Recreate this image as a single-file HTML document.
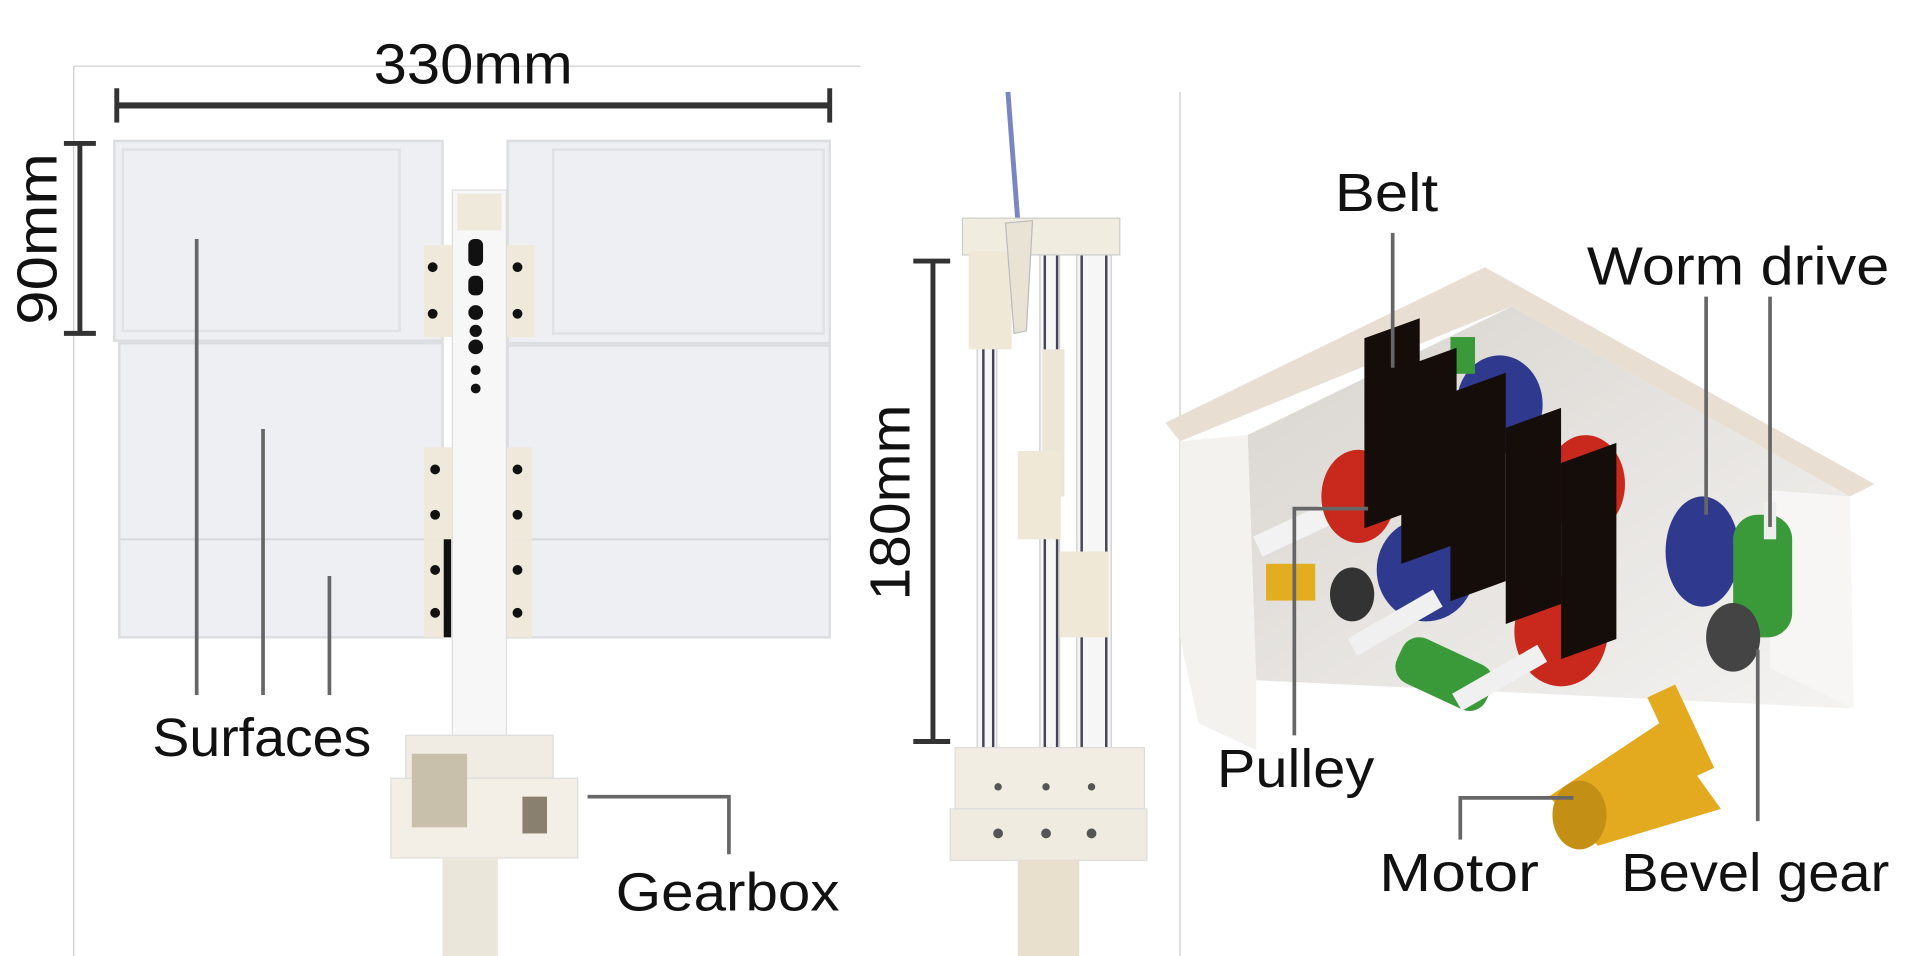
<!DOCTYPE html>
<html><head><meta charset="utf-8"><style>
html,body{margin:0;padding:0;background:#fff;}
svg{display:block;}
text{font-family:"Liberation Sans",sans-serif;fill:#111;}
</style></head><body>
<svg width="1920" height="956" viewBox="0 0 1562 780" preserveAspectRatio="none" xmlns="http://www.w3.org/2000/svg">
<defs>
<linearGradient id="g1" x1="0" y1="0" x2="1" y2="1"><stop offset="0" stop-color="#d8d4cf"/><stop offset="1" stop-color="#f4f3f1"/></linearGradient>
</defs>
<!-- frame lines -->
<line x1="60" y1="54" x2="700" y2="54" stroke="#ccc" stroke-width="1"/>
<line x1="60" y1="54" x2="60" y2="780" stroke="#ccc" stroke-width="1"/>
<line x1="960" y1="75" x2="960" y2="780" stroke="#ccc" stroke-width="1"/>

<!-- 330mm -->
<text x="385" y="68" font-size="46" text-anchor="middle" textLength="162" lengthAdjust="spacingAndGlyphs">330mm</text>
<line x1="95" y1="86" x2="675" y2="86" stroke="#333" stroke-width="5"/>
<line x1="95" y1="72" x2="95" y2="100" stroke="#333" stroke-width="4"/>
<line x1="675" y1="72" x2="675" y2="100" stroke="#333" stroke-width="4"/>
<!-- 90mm -->
<line x1="65" y1="117" x2="65" y2="272" stroke="#333" stroke-width="4"/>
<line x1="52" y1="117" x2="78" y2="117" stroke="#333" stroke-width="4"/>
<line x1="52" y1="272" x2="78" y2="272" stroke="#333" stroke-width="4"/>
<text transform="translate(46,195) rotate(-90)" font-size="46" text-anchor="middle" textLength="140" lengthAdjust="spacingAndGlyphs">90mm</text>

<!-- panels -->
<g fill="#eeeff2" stroke="#dcdde0" stroke-width="2">
<rect x="97" y="440" width="263" height="80"/>
<rect x="413" y="440" width="262" height="80"/>
<rect x="97" y="280" width="263" height="160"/>
<rect x="413" y="282" width="262" height="158"/>
<rect x="93" y="115" width="267" height="163"/>
<rect x="413" y="115" width="262" height="165"/>
</g>
<g fill="none" stroke="#e0e1e4" stroke-width="2">
<rect x="100" y="122" width="225" height="148"/>
<rect x="450" y="122" width="220" height="150"/>
</g>
<!-- pole -->
<rect x="345" y="200" width="90" height="75" fill="#efe9dc"/>
<rect x="345" y="365" width="88" height="75" fill="#efe9dc"/>
<rect x="345" y="440" width="88" height="80" fill="#efe9dc"/>
<rect x="368" y="155" width="44" height="450" fill="#f7f7f7" stroke="#ddd"/>
<rect x="372" y="158" width="36" height="30" fill="#efe9dc"/>
<g fill="#111">
<rect x="381" y="195" width="12" height="22" rx="5"/>
<rect x="381" y="225" width="12" height="16" rx="5"/>
<circle cx="387" cy="255" r="6"/><circle cx="387" cy="270" r="5"/><circle cx="387" cy="283" r="6"/>
<circle cx="387" cy="302" r="4"/><circle cx="387" cy="317" r="4"/>
<circle cx="352" cy="218" r="4"/><circle cx="352" cy="256" r="4"/><circle cx="421" cy="218" r="4"/><circle cx="421" cy="256" r="4"/>
<circle cx="354" cy="383" r="4"/><circle cx="354" cy="420" r="4"/><circle cx="421" cy="383" r="4"/><circle cx="421" cy="420" r="4"/>
<circle cx="354" cy="465" r="4"/><circle cx="354" cy="500" r="4"/><circle cx="421" cy="465" r="4"/><circle cx="421" cy="500" r="4"/>
<rect x="361" y="440" width="6" height="80"/>
</g>
<!-- gearbox -->
<rect x="330" y="600" width="120" height="35" fill="#f0ece3" stroke="#ddd"/>
<rect x="318" y="635" width="152" height="65" fill="#f3efe6" stroke="#ddd"/>
<rect x="335" y="615" width="45" height="60" fill="#c9c0ac"/>
<rect x="425" y="650" width="20" height="30" fill="#8a8070"/>
<rect x="360" y="700" width="45" height="80" fill="#eae6da"/>

<!-- leaders left -->
<g stroke="#666" stroke-width="3" fill="none">
<line x1="160" y1="195" x2="160" y2="567"/>
<line x1="214" y1="350" x2="214" y2="567"/>
<line x1="268" y1="470" x2="268" y2="567"/>
<polyline points="478,650 593,650 593,697"/>
</g>
<text x="213" y="617" font-size="44" text-anchor="middle" textLength="178" lengthAdjust="spacingAndGlyphs">Surfaces</text>
<text x="592" y="743" font-size="44" text-anchor="middle" textLength="182" lengthAdjust="spacingAndGlyphs">Gearbox</text>

<!-- middle device -->
<line x1="820" y1="75" x2="828" y2="180" stroke="#7a86c0" stroke-width="4"/>
<g fill="#f6f6f6" stroke="#ccc"><rect x="795" y="200" width="16" height="410"/><rect x="846" y="200" width="16" height="410"/><rect x="876" y="200" width="28" height="410"/></g>
<g stroke="#445" stroke-width="2">
<line x1="800" y1="200" x2="800" y2="610"/><line x1="808" y1="200" x2="808" y2="610"/>
<line x1="850" y1="200" x2="850" y2="610"/><line x1="860" y1="200" x2="860" y2="610"/>
<line x1="880" y1="200" x2="880" y2="610"/><line x1="900" y1="200" x2="900" y2="610"/>
</g>
<rect x="783" y="178" width="128" height="30" fill="#f0ece0" stroke="#ccc"/>
<rect x="788" y="205" width="35" height="80" fill="#efe8d6"/>
<polygon points="818,182 840,180 835,270 825,272" fill="#e9e3d6" stroke="#bbb"/>
<rect x="848" y="285" width="18" height="120" fill="#ece6d8"/>
<rect x="828" y="368" width="35" height="72" fill="#efe8d6"/>
<rect x="862" y="450" width="40" height="70" fill="#efe8d6"/>
<rect x="777" y="610" width="154" height="50" fill="#f2ede2" stroke="#ddd"/>
<rect x="773" y="660" width="160" height="42" fill="#f0ebe0" stroke="#ddd"/>
<g fill="#555"><circle cx="812" cy="642" r="3"/><circle cx="851" cy="642" r="3"/><circle cx="888" cy="642" r="3"/>
<circle cx="812" cy="680" r="4"/><circle cx="851" cy="680" r="4"/><circle cx="888" cy="680" r="4"/></g>
<rect x="828" y="702" width="50" height="78" fill="#e8e0cc"/>
<!-- 180mm -->
<line x1="759" y1="213" x2="759" y2="605" stroke="#333" stroke-width="4"/>
<line x1="743" y1="213" x2="773" y2="213" stroke="#333" stroke-width="4"/>
<line x1="743" y1="605" x2="773" y2="605" stroke="#333" stroke-width="4"/>
<text transform="translate(740,410) rotate(-90)" font-size="46" text-anchor="middle" textLength="160" lengthAdjust="spacingAndGlyphs">180mm</text>

<!-- right render -->
<polygon points="1015,355 1230,250 1505,405 1505,578 1022,555" fill="url(#g1)"/>
<polygon points="948,345 1208,218 1525,395 1505,405 1230,250 960,360" fill="#e8ded2"/>
<polygon points="960,360 1015,355 1022,555 1022,612 975,590 960,520" fill="#f4f2ee"/>
<polygon points="1440,400 1505,405 1508,578 1440,545" fill="#f7f6f4"/>
<!-- shafts/cylinders -->
<rect x="1020" y="420" width="85" height="18" fill="#f2f2f2" transform="rotate(-25 1060 430)"/>
<ellipse cx="1105" cy="405" rx="30" ry="38" fill="#c9281c"/>
<ellipse cx="1160" cy="465" rx="40" ry="42" fill="#2f3a8f"/>
<ellipse cx="1220" cy="330" rx="35" ry="40" fill="#2f3a8f"/>
<ellipse cx="1290" cy="395" rx="32" ry="40" fill="#c9281c"/>
<ellipse cx="1270" cy="515" rx="38" ry="45" fill="#c9281c"/>
<ellipse cx="1385" cy="450" rx="30" ry="45" fill="#2f3a8f"/>
<rect x="1410" y="420" width="48" height="100" rx="20" fill="#3a9a3a"/>
<rect x="1435" y="410" width="10" height="30" fill="#eee"/>
<rect x="1180" y="275" width="20" height="30" fill="#3a9a3a"/>
<rect x="1135" y="530" width="80" height="40" rx="15" fill="#3a9a3a" transform="rotate(25 1175 550)"/>
<rect x="1095" y="500" width="80" height="16" fill="#f0f0f0" transform="rotate(-30 1135 508)"/>
<rect x="1180" y="545" width="80" height="16" fill="#f0f0f0" transform="rotate(-30 1220 553)"/>
<ellipse cx="1100" cy="485" rx="18" ry="22" fill="#333"/>
<ellipse cx="1410" cy="520" rx="22" ry="28" fill="#444"/>
<rect x="1030" y="460" width="40" height="30" fill="#e2ad1f"/>
<!-- belts -->
<g fill="#140d09">
<rect x="1110" y="280" width="45" height="155" transform="skewY(-20) translate(0,400)"/>
<rect x="1140" y="305" width="45" height="160" transform="skewY(-20) translate(0,410)"/>
<rect x="1180" y="330" width="45" height="170" transform="skewY(-20) translate(0,420)"/>
<rect x="1225" y="355" width="45" height="160" transform="skewY(-20) translate(0,440)"/>
<rect x="1270" y="385" width="45" height="160" transform="skewY(-20) translate(0,455)"/>
</g>
<!-- motor -->
<polygon points="1260,650 1350,590 1400,660 1300,690" fill="#e3aa1f"/>
<ellipse cx="1285" cy="665" rx="22" ry="28" fill="#c48f15"/>
<rect x="1355" y="560" width="25" height="75" fill="#e3aa1f" transform="rotate(-25 1368 598)"/>
<!-- labels right -->
<g stroke="#666" stroke-width="3" fill="none">
<line x1="1133" y1="190" x2="1133" y2="300"/>
<line x1="1388" y1="242" x2="1388" y2="420"/>
<line x1="1440" y1="242" x2="1440" y2="430"/>
<polyline points="1113,415 1053,415 1053,600"/>
<polyline points="1280,651 1188,651 1188,685"/>
<line x1="1430" y1="530" x2="1430" y2="670"/>
</g>
<text x="1128" y="172" font-size="44" text-anchor="middle" textLength="84" lengthAdjust="spacingAndGlyphs">Belt</text>
<text x="1414" y="232" font-size="44" text-anchor="middle" textLength="246" lengthAdjust="spacingAndGlyphs">Worm drive</text>
<text x="1054" y="642" font-size="44" text-anchor="middle" textLength="128" lengthAdjust="spacingAndGlyphs">Pulley</text>
<text x="1187" y="727" font-size="44" text-anchor="middle" textLength="130" lengthAdjust="spacingAndGlyphs">Motor</text>
<text x="1428" y="727" font-size="44" text-anchor="middle" textLength="218" lengthAdjust="spacingAndGlyphs">Bevel gear</text>
</svg>
</body></html>
